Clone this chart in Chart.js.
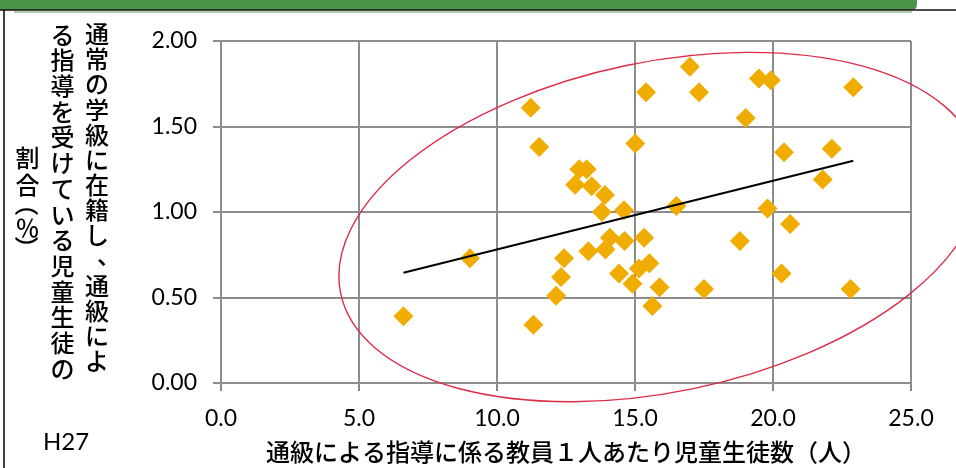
<!DOCTYPE html>
<html><head><meta charset="utf-8">
<script src="https://cdn.jsdelivr.net/npm/chart.js@4"></script>
<style>html,body{margin:0;padding:0;background:#fff;}canvas{display:block;}</style>
</head><body>
<canvas id="c" width="956" height="468"></canvas>
<script>
// ---- data ----
const xValues = [6.61, 9.02, 11.22, 11.53, 11.32, 12.14, 12.32, 12.43, 12.83, 12.98, 13.25, 13.43, 13.91, 13.80, 13.31, 13.93, 14.09, 14.60, 14.62, 14.42, 14.91, 15.01, 15.33, 15.14, 15.52, 15.63, 15.89, 15.40, 16.50, 16.99, 17.32, 17.50, 18.80, 19.01, 19.49, 19.92, 19.80, 20.31, 20.40, 20.62, 21.80, 22.13, 22.91, 22.81];
const yValues = [0.39, 0.73, 1.61, 1.38, 0.34, 0.51, 0.62, 0.73, 1.16, 1.25, 1.25, 1.15, 1.10, 1.00, 0.77, 0.78, 0.85, 1.01, 0.83, 0.64, 0.58, 1.40, 0.85, 0.67, 0.70, 0.45, 0.56, 1.70, 1.035, 1.85, 1.70, 0.55, 0.83, 1.55, 1.78, 1.77, 1.02, 0.64, 1.35, 0.93, 1.19, 1.37, 1.73, 0.55];
const trendX = [6.61, 22.91];
const trendY = [0.645, 1.30];
const xTickLabels = ['0.0', '5.0', '10.0', '15.0', '20.0', '25.0'];
const yTickLabels = ['0.00', '0.50', '1.00', '1.50', '2.00'];
const xAxisTitle = '通級による指導に係る教員１人あたり児童生徒数（人）';
const yAxisTitleCols = ['通常の学級に在籍し、通級によ', 'る指導を受けている児童生徒の', '割合（％）'];
const yearLabel = 'H27';

// ---- annotation: the hand-drawn ellipse (centre in data units) ----
const ellipseNote = { cx: 15.9, cy: 0.912, rx: 326, ry: 165, angleDeg: -11.75 };

const scatterPoints = xValues.map((x, i) => ({ x: x, y: yValues[i] }));
const trendPoints = trendX.map((x, i) => ({ x: x, y: trendY[i] }));

const GRID = '#8c8c8c';
const TICK_FONT = { family: 'Lato', size: 23 };
const CJK = '"Noto Sans CJK JP"';

const framePlugin = {
  id: 'frame',
  beforeDraw(chart) {
    const ctx = chart.ctx;
    ctx.save();
    ctx.fillStyle = '#fff';
    ctx.fillRect(0, 0, chart.width, chart.height);
    // green header band
    ctx.fillStyle = '#4b9347';
    ctx.beginPath();
    ctx.moveTo(0, 0);
    ctx.lineTo(917, 0);
    ctx.lineTo(917, 4);
    ctx.quadraticCurveTo(917, 10, 911, 10);
    ctx.lineTo(0, 10);
    ctx.closePath();
    ctx.fill();
    ctx.strokeStyle = 'rgba(75,147,71,0.45)';
    ctx.lineWidth = 2;
    ctx.beginPath();
    ctx.moveTo(14, 12);
    ctx.lineTo(912, 12);
    ctx.stroke();
    ctx.strokeStyle = '#111';
    ctx.lineWidth = 1.6;
    ctx.beginPath();
    ctx.moveTo(0, 10);
    ctx.lineTo(chart.width, 10);
    ctx.stroke();
    ctx.beginPath();
    ctx.moveTo(4, 10);
    ctx.lineTo(4, chart.height);
    ctx.stroke();
    ctx.restore();
  },
  afterDraw(chart) {
    const ctx = chart.ctx;
    const { x, y } = chart.scales;
    ctx.save();
    // ellipse
    ctx.strokeStyle = '#dc2b45';
    ctx.lineWidth = 1.4;
    ctx.beginPath();
    ctx.ellipse(x.getPixelForValue(ellipseNote.cx), y.getPixelForValue(ellipseNote.cy),
      ellipseNote.rx, ellipseNote.ry, ellipseNote.angleDeg * Math.PI / 180, 0, Math.PI * 2);
    ctx.stroke();

    // vertical (tategaki) y-axis title
    ctx.fillStyle = '#000';
    ctx.font = '500 24px ' + CJK;
    ctx.textAlign = 'center';
    ctx.textBaseline = 'middle';
    const cols = [{ cx: 97, y0: 34, step: 25.15 }, { cx: 62.5, y0: 34.5, step: 25.7 }];
    cols.forEach((c, ci) => {
      Array.from(yAxisTitleCols[ci]).forEach((ch, k) => {
        const cy = c.y0 + k * c.step;
        if (ch === '、') ctx.fillText(ch, c.cx + 12, cy - 5);
        else ctx.fillText(ch, c.cx, cy);
      });
    });
    const col3 = Array.from(yAxisTitleCols[2]);
    const col3Y = [158, 185, 204, 228, 248];
    col3.forEach((ch, k) => {
      const cx = 27.5, cy = col3Y[k];
      if (ch === '（' || ch === '）') {
        ctx.save();
        ctx.translate(cx, cy);
        ctx.rotate(Math.PI / 2);
        ctx.fillText(ch, 0, 0);
        ctx.restore();
      } else {
        ctx.fillText(ch, cx, cy);
      }
    });

    // year label
    ctx.font = '24px Lato';
    ctx.textAlign = 'left';
    ctx.fillText(yearLabel, 43, 442);
    ctx.restore();
  }
};

new Chart(document.getElementById('c'), {
  data: {
    datasets: [
      {
        type: 'line',
        data: trendPoints,
        borderColor: '#000',
        borderWidth: 2,
        pointRadius: 0,
        fill: false,
        order: 0
      },
      {
        type: 'scatter',
        data: scatterPoints,
        pointStyle: 'rectRot',
        pointRadius: 10,
        pointHoverRadius: 10,
        backgroundColor: '#f0ac00',
        borderColor: '#f0ac00',
        borderWidth: 0,
        order: 1
      }
    ]
  },
  options: {
    responsive: false,
    animation: false,
    devicePixelRatio: 1,
    events: [],
    layout: { padding: { left: 0, top: 41, right: 45, bottom: 0 } },
    plugins: { legend: { display: false }, tooltip: { enabled: false } },
    scales: {
      x: {
        type: 'linear',
        min: 0, max: 25,
        ticks: { stepSize: 5, padding: 14, color: '#000', font: TICK_FONT,
          callback: (v, i) => xTickLabels[i] },
        grid: { color: GRID, lineWidth: 2, tickLength: 8, tickColor: GRID },
        border: { color: GRID, width: 2 },
        title: { display: true, text: xAxisTitle, color: '#000',
          font: { family: 'Noto Sans CJK JP', size: 24, weight: 500 }, padding: { top: 0, bottom: 2 } },
        afterFit: (s) => { s.height = 85; }
      },
      y: {
        type: 'linear',
        min: 0, max: 2,
        ticks: { stepSize: 0.5, padding: 16, color: '#000', font: TICK_FONT,
          callback: (v, i) => yTickLabels[i] },
        grid: { color: GRID, lineWidth: 2, tickLength: 8, tickColor: GRID },
        border: { color: GRID, width: 2 },
        afterFit: (s) => { s.width = 221; }
      }
    }
  },
  plugins: [framePlugin]
});
</script>
</body></html>
